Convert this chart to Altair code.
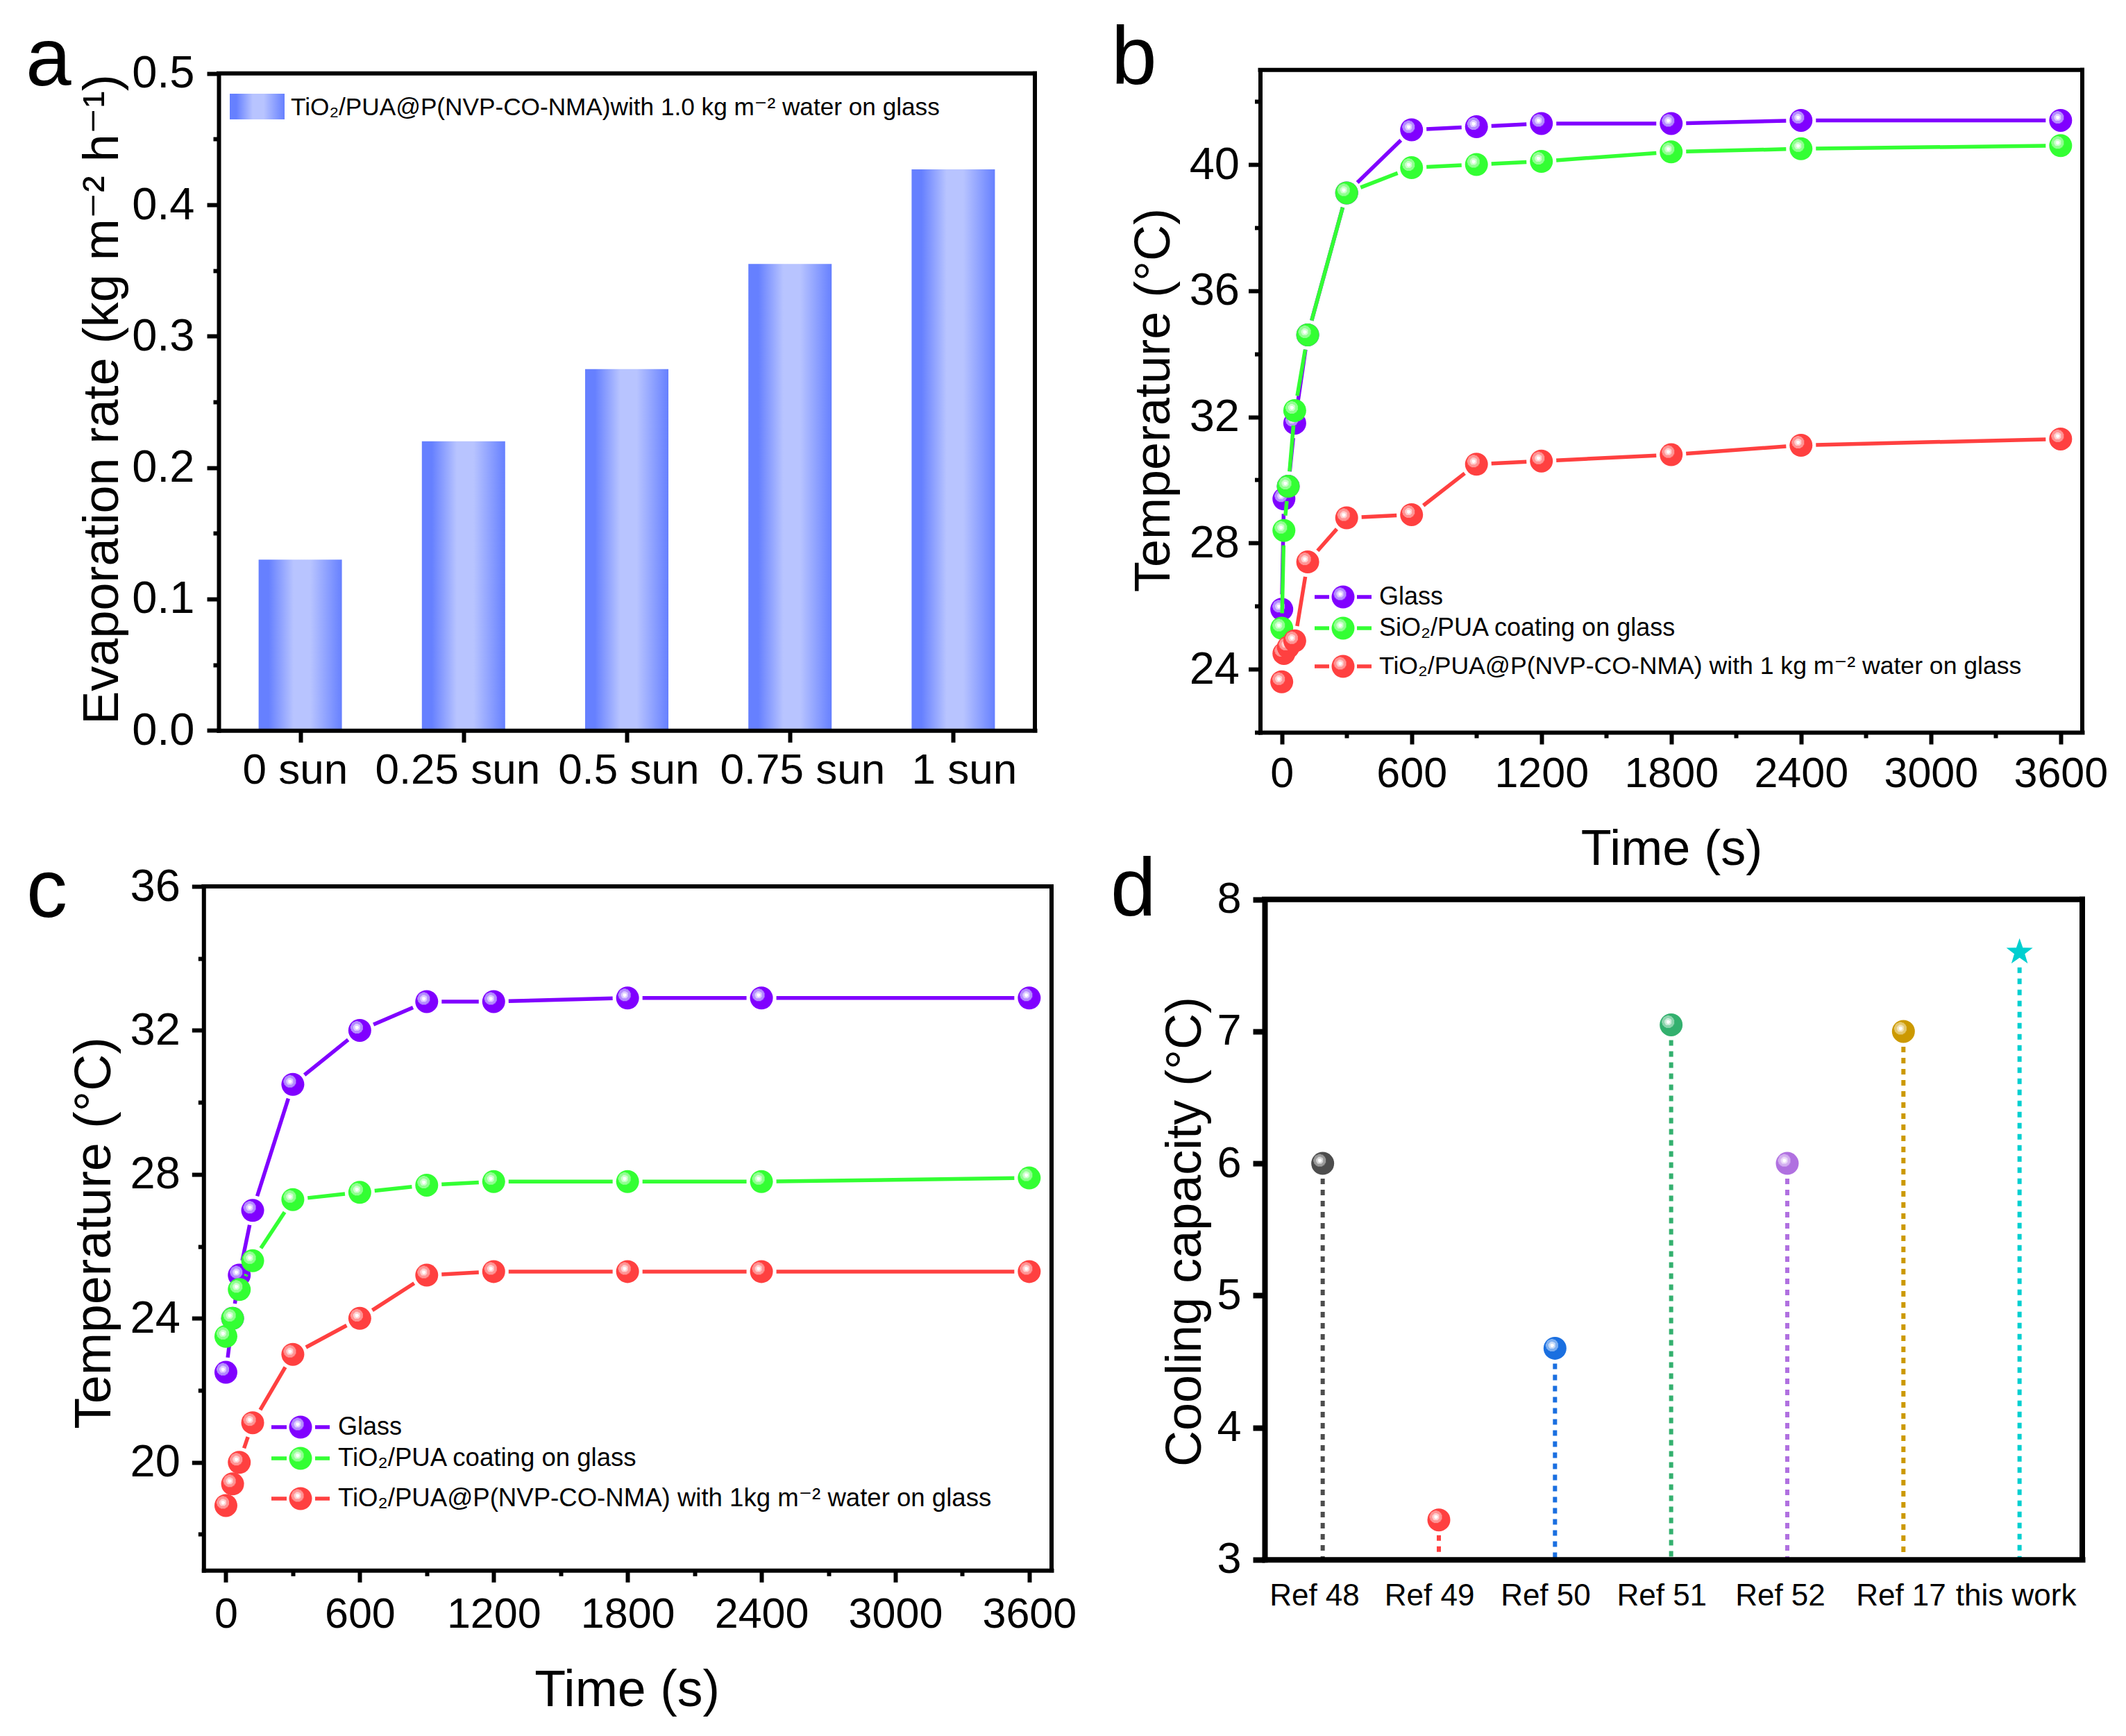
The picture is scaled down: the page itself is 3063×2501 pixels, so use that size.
import math
import altair as alt
import pandas as pd

FONT = "Liberation Sans, DejaVu Sans"
W, H = 3047, 2480
M = 8  # page margin

# ---- data ----
sun_pos = [1, 2, 3, 4, 5]
evap_rate = [0.13, 0.22, 0.275, 0.355, 0.427]
sun_labels = ["0 sun", "0.25 sun", "0.5 sun", "0.75 sun", "1 sun"]
sun_label_pos = [0.969, 1.964, 3.012, 4.077, 5.068]

time_b = [0, 10, 30, 60, 120, 300, 600, 900, 1200, 1800, 2400, 3600]
b_glass = [25.9, 29.4, 29.8, 31.8, 34.6, 39.1, 41.1, 41.2, 41.3, 41.3, 41.4, 41.4]
b_sio2 = [25.3, 28.4, 29.8, 32.2, 34.6, 39.1, 39.9, 40.0, 40.1, 40.4, 40.5, 40.6]
b_tio2 = [23.6, 24.5, 24.7, 24.9, 27.4, 28.8, 28.9, 30.5, 30.6, 30.8, 31.1, 31.3]

time_c = [0, 30, 60, 120, 300, 600, 900, 1200, 1800, 2400, 3600]
c_glass = [22.5, 24.0, 25.2, 27.0, 30.5, 32.0, 32.8, 32.8, 32.9, 32.9, 32.9]
c_tio2 = [23.5, 24.0, 24.8, 25.6, 27.3, 27.5, 27.7, 27.8, 27.8, 27.8, 27.9]
c_film = [18.8, 19.4, 20.0, 21.1, 23.0, 24.0, 25.2, 25.3, 25.3, 25.3, 25.3]

ref_pos = [1, 2, 3, 4, 5, 6, 7]
ref_vals = [6.0, 3.3, 4.6, 7.05, 6.0, 7.0, 7.6]
ref_colors = ["#4d4d4d", "#ff4040", "#1a6fe0", "#33b06e", "#b070e0", "#cc9900", "#00cfd0"]
ref_labels = ["Ref 48", "Ref 49", "Ref 50", "Ref 51", "Ref 52", "Ref 17", "this work"]
ref_label_pos = [0.93, 1.92, 2.92, 3.92, 4.94, 5.98, 6.97]

PURPLE, GREEN, RED = "#8000ff", "#33ff33", "#ff4040"
RINGS = {
    PURPLE: ("#b48cff", "#dccbff"),
    GREEN: ("#90ff90", "#ccffcc"),
    RED: ("#ff9494", "#ffcfcf"),
    "#4d4d4d": ("#9a9a9a", "#d4d4d4"),
    "#1a6fe0": ("#7fb0f0", "#c8dcf8"),
    "#33b06e": ("#8ed4ae", "#cdebda"),
    "#b070e0": ("#d3aef0", "#ebdaf8"),
    "#cc9900": ("#e4c870", "#f3e4b8"),
}
BALL = 1089

STAR = "M " + " L ".join(
    f"{(1 if i % 2 == 0 else 0.4) * math.sin(i * math.pi / 5):.4f} "
    f"{-(1 if i % 2 == 0 else 0.4) * math.cos(i * math.pi / 5):.4f}"
    for i in range(10)
) + " Z"


def ball(color):
    r1, r2 = RINGS[color]
    return {
        "gradient": "radial", "x1": 0.37, "y1": 0.37, "r1": 0,
        "x2": 0.37, "y2": 0.37, "r2": 0.64,
        "stops": [
            {"offset": 0.0, "color": "#ffffff"}, {"offset": 0.12, "color": "#ffffff"},
            {"offset": 0.13, "color": r2}, {"offset": 0.24, "color": r2},
            {"offset": 0.25, "color": r1}, {"offset": 0.42, "color": r1},
            {"offset": 0.43, "color": color}, {"offset": 1.0, "color": color},
        ],
    }


BAR_FILL = {
    "gradient": "linear", "x1": 0, "y1": 0, "x2": 1, "y2": 0,
    "stops": [
        {"offset": 0.0, "color": "#6680ff"}, {"offset": 0.12, "color": "#6680ff"},
        {"offset": 0.42, "color": "#b8c4ff"}, {"offset": 0.62, "color": "#b8c4ff"},
        {"offset": 1.0, "color": "#6680ff"},
    ],
}


class Panel:
    def __init__(self, box, xdom, ydom, lw=6):
        self.x0, self.x1, self.ytop, self.ybot = box
        self.xdom, self.ydom, self.lw = xdom, ydom, lw
        self.xs = alt.Scale(domain=xdom, range=[self.x0 - M, self.x1 - M], nice=False, zero=False, padding=0)
        self.ys = alt.Scale(domain=ydom, range=[self.ybot - M, self.ytop - M], nice=False, zero=False, padding=0)
        self.px = (self.x1 - self.x0) / (xdom[1] - xdom[0])
        self.py = (self.ybot - self.ytop) / (ydom[1] - ydom[0])

    def X(self, f="x"):
        return alt.X(f"{f}:Q", scale=self.xs, axis=None)

    def Y(self, f="y"):
        return alt.Y(f"{f}:Q", scale=self.ys, axis=None)

    def frame(self, xaxis, yaxis):
        df = pd.DataFrame({"x": [self.xdom[0]], "x2": [self.xdom[1]],
                           "y": [self.ydom[1]], "y0": [self.ydom[0]]})
        top = alt.Chart(df).mark_rule(color="black", strokeWidth=self.lw, strokeCap="square").encode(
            x=alt.X("x:Q", scale=self.xs, axis=xaxis), x2="x2:Q",
            y=alt.Y("y:Q", scale=self.ys, axis=yaxis))
        right = alt.Chart(df).mark_rule(color="black", strokeWidth=self.lw, strokeCap="square").encode(
            x=alt.X("x2:Q", scale=self.xs, axis=None),
            y=alt.Y("y:Q", scale=self.ys, axis=None), y2="y0:Q")
        return top, right

    def series(self, xs, ys, color):
        gap = 21.5
        segs = []
        for a, b, c, d in zip(xs[:-1], ys[:-1], xs[1:], ys[1:]):
            dx, dy = (c - a) * self.px, (d - b) * self.py
            dist = (dx * dx + dy * dy) ** 0.5
            if dist > 2 * gap:
                t = gap / dist
                segs.append({"x": a + (c - a) * t, "y": b + (d - b) * t,
                             "x2": c - (c - a) * t, "y2": d - (d - b) * t})
        line = alt.Chart(pd.DataFrame(segs)).mark_rule(color=color, strokeWidth=5.5, strokeCap="butt").encode(
            x=self.X(), y=self.Y(), x2="x2:Q", y2="y2:Q")
        pts = alt.Chart(pd.DataFrame({"x": xs, "y": ys})).mark_circle(
            size=BALL, opacity=1, fill=ball(color)).encode(x=self.X(), y=self.Y())
        return [line, pts]


def axis(orient, title, values, test, offset, tx, ty, fmt="d", labels=True, ticks=True, pad=12, size=61, lw=6, tsize=72):
    return alt.Axis(
        orient=orient, title=title, values=values, offset=offset, titleX=tx, titleY=ty, format=fmt,
        titleFont=FONT, titleFontSize=tsize, titleFontWeight="normal", titleColor="black",
        titleBaseline="middle", titleAlign="center",
        labelFont=FONT, labelFontSize=size, labelColor="black", labelPadding=pad,
        labelExpr=f"({test}) ? datum.label : ''", labelOverlap=False, labelFlush=False, labels=labels,
        ticks=ticks, tickColor="black", tickWidth=lw, tickCap="butt",
        tickSize={"condition": {"test": test, "value": 17}, "value": 8},
        domain=True, domainColor="black", domainWidth=lw, domainCap="square", grid=False, zindex=1)


def text(t, x, y, size=36, align="left"):
    return alt.Chart(pd.DataFrame({"t": [t]})).mark_text(
        font=FONT, fontSize=size, align=align, baseline="middle", color="black"
    ).encode(text="t:N", x=alt.value(x - M), y=alt.value(y - M))


def legend_row(color, label, cx, y, tx, d0, d1, d2, d3, size=36):
    one = pd.DataFrame({"a": [0]})
    rules = [
        alt.Chart(one).mark_rule(color=color, strokeWidth=5.5).encode(
            x=alt.value(p - M), x2=alt.value(q - M), y=alt.value(y - M))
        for p, q in ((d0, d1), (d2, d3))
    ]
    dot = alt.Chart(one).mark_circle(size=BALL, opacity=1, fill=ball(color)).encode(
        x=alt.value(cx - M), y=alt.value(y - M))
    return rules + [dot, text(label, tx, y, size=size)]


# ---- panel a ----
pa = Panel((315, 1491, 105.7, 1052.3), [0.5, 5.5], [0, 0.5])
a_y = axis("left", "Evaporation rate (kg m\u207b\u00b2 h\u207b\u00b9)", [round(i * 0.05, 2) for i in range(11)],
           "round(datum.value*100) % 10 === 0", -(315 - M), 147 - 315, 575 - M, fmt=".1f", pad=18, size=65)
a_x = axis("bottom", None, sun_pos, "true", 1052.3 - M - H, 0, 0, labels=False)
adf = pd.DataFrame({"x": sun_pos, "y": evap_rate, "y0": [0] * 5})
a_top, a_right = pa.frame(a_x, a_y)
a_layers = [
    alt.Chart(adf).mark_bar(width=120, fill=BAR_FILL, stroke=None, opacity=1).encode(
        x=pa.X(), y=pa.Y(), y2="y0:Q"),
    a_right,
]
a_text = pd.DataFrame({"x": sun_label_pos, "t": sun_labels})
a_layers.append(alt.Chart(a_text).mark_text(font=FONT, fontSize=62, baseline="middle", color="black").encode(
    x=pa.X(), y=alt.value(1110 - M), text="t:N"))
panel_a = alt.layer(*a_layers)

# ---- panel b ----
pb = Panel((1815.5, 3000, 100.7, 1055), [-100, 3700], [22, 43.0])
b_y = axis("left", "Temperature (\u00b0C)", list(range(22, 44, 2)), "datum.value % 4 === 0",
           -(1815.5 - M), 1662 - 1815.5, 576 - M, pad=13, size=65)
b_x = axis("bottom", "Time (s)", list(range(0, 3900, 300)), "datum.value % 600 === 0",
           1055 - M - H, 2408 - M, 1223 - 1055, pad=13)
b_top, b_right = pb.frame(b_x, b_y)
b_layers = [b_right]
for vals, col in ((b_glass, PURPLE), (b_sio2, GREEN), (b_tio2, RED)):
    b_layers += pb.series(time_b, vals, col)
panel_b = alt.layer(*b_layers)

# ---- panel c ----
pc = Panel((293.3, 1515, 1277, 2262.3), [-100, 3700], [17, 36])
c_y = axis("left", "Temperature (\u00b0C)", list(range(18, 38, 2)), "datum.value % 4 === 0",
           -(293.3 - M), 137 - 293.3, 1776 - M, pad=17, size=65, tsize=73.5)
c_x = axis("bottom", "Time (s)", list(range(0, 3900, 300)), "datum.value % 600 === 0",
           2262.3 - M - H, 903 - M, 2435 - 2262.3, pad=17, tsize=73.5)
c_top, c_right = pc.frame(c_x, c_y)
c_layers = [c_right]
for vals, col in ((c_glass, PURPLE), (c_tio2, GREEN), (c_film, RED)):
    c_layers += pc.series(time_c, vals, col)
panel_c = alt.layer(*c_layers)

# ---- panel d ----
pd_ = Panel((1822, 3000, 1295.7, 2246.7), [0.5, 7.54], [3, 8], lw=8)
d_y = axis("left", "Cooling capacity (\u00b0C)", [3 + i * 0.5 for i in range(11)], "datum.value % 1 === 0",
           -(1822 - M), 1707 - 1822, 1774 - M, pad=17, size=63, lw=8)
d_x = axis("bottom", None, ref_pos, "true", 2246.7 - M - H, 0, 0, labels=False, ticks=False, lw=8)
d_top, d_right = pd_.frame(d_x, d_y)
d_layers = [d_right]
for p, v, c in zip(ref_pos, ref_vals, ref_colors):
    stem = pd.DataFrame({"x": [p], "y": [v - 22 / pd_.py], "y0": [3]})
    d_layers.append(alt.Chart(stem).mark_rule(color=c, strokeWidth=6, strokeDash=[8, 8]).encode(
        x=pd_.X(), y=pd_.Y(), y2="y0:Q"))
    pt = pd.DataFrame({"x": [p], "y": [v]})
    if p < 7:
        d_layers.append(alt.Chart(pt).mark_circle(size=BALL, opacity=1, fill=ball(c)).encode(
            x=pd_.X(), y=pd_.Y()))
    else:
        d_layers.append(alt.Chart(pt).mark_point(shape=STAR, filled=True, size=1600, opacity=1, color=c).encode(
            x=pd_.X(), y=pd_.Y()))
d_text = pd.DataFrame({"x": ref_label_pos, "t": ref_labels})
d_layers.append(alt.Chart(d_text).mark_text(font=FONT, fontSize=44, baseline="middle", color="black").encode(
    x=pd_.X(), y=alt.value(2300 - M), text="t:N"))
panel_d = alt.layer(*d_layers)

# ---- annotations ----
notes = []
B = (1935, 1987, 1894, 1915, 1955, 1976)
C = (433, 487, 391, 413, 454, 475)
for col, lab, y, size in (
    (PURPLE, "Glass", 860, 36),
    (GREEN, "SiO\u2082/PUA coating on glass", 905, 36),
    (RED, "TiO\u2082/PUA@P(NVP-CO-NMA) with 1 kg m\u207b\u00b2 water on glass", 960, 35.6),
):
    notes += legend_row(col, lab, B[0], y, B[1], B[2], B[3], B[4], B[5], size=size)
for col, lab, y, size in (
    (PURPLE, "Glass", 2056, 36),
    (GREEN, "TiO\u2082/PUA coating on glass", 2101, 36.6),
    (RED, "TiO\u2082/PUA@P(NVP-CO-NMA) with 1kg m\u207b\u00b2 water on glass", 2159, 36.6),
):
    notes += legend_row(col, lab, C[0], y, C[1], C[2], C[3], C[4], C[5], size=size)
swatch = alt.Chart(pd.DataFrame({"a": [0]})).mark_rect(fill=BAR_FILL, opacity=1).encode(
    x=alt.value(331 - M), x2=alt.value(410 - M), y=alt.value(135 - M), y2=alt.value(172 - M))
notes.append(swatch)
notes.append(text("TiO\u2082/PUA@P(NVP-CO-NMA)with 1.0 kg m\u207b\u00b2 water on glass", 419, 155, size=35.2))
for letter, x, y in (("a", 37, 88), ("b", 1601, 86), ("c", 38, 1286), ("d", 1600, 1284)):
    notes.append(text(letter, x, y, size=118))

chart = alt.layer(a_top, b_top, c_top, d_top, panel_a, panel_b, panel_c, panel_d, *notes).resolve_scale(
    x="independent", y="independent"
).properties(
    width=W, height=H, padding=0, background="white",
    autosize=alt.AutoSizeParams(type="none"),
).configure_view(stroke=None)

chart.save("out.html", embed_options={"renderer": "svg", "actions": False})
